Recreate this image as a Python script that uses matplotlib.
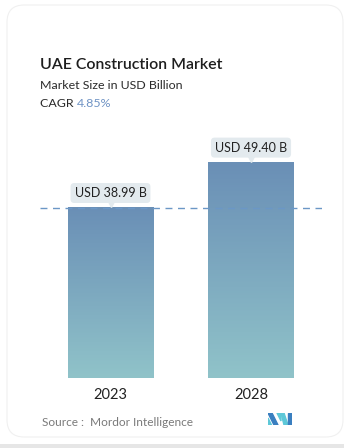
import matplotlib
matplotlib.use("Agg")
import matplotlib.pyplot as plt
import numpy as np
from matplotlib.patches import FancyBboxPatch, Rectangle, Polygon
from matplotlib.colors import LinearSegmentedColormap

# ---- data ----
categories = ["2023", "2028"]
values = [38.99, 49.40]
value_labels = ["USD 38.99 B", "USD 49.40 B"]
title = "UAE Construction Market"
subtitle = "Market Size in USD Billion"
cagr_label = "CAGR"
cagr_value = "4.85%"
source = "Source :  Mordor Intelligence"

W, H = 344, 448
plt.rcParams['font.family'] = ['Lato', 'DejaVu Sans']
fig = plt.figure(figsize=(W / 100, H / 100), dpi=100)
fig.patch.set_facecolor("white")

def fx(px):
    return px / W

def fy(py):
    return 1 - py / H

# card background
fig.patches.append(Rectangle((0, 0), 1, fy(444), transform=fig.transFigure,
                             facecolor="#e6e6e6", edgecolor="none", zorder=0))
card = FancyBboxPatch((fx(7), fy(437)), fx(343) - fx(7), fy(5) - fy(437),
                      boxstyle="round,pad=0,rounding_size=0.05",
                      transform=fig.transFigure, facecolor="white",
                      edgecolor="#f0f0f0", linewidth=0.8, zorder=1,
                      mutation_aspect=W / H)
fig.patches.append(card)

# titles
fig.text(fx(40), fy(69), title, fontsize=11.4, fontweight="semibold",
         color="#1e1e1e", va="baseline", ha="left", zorder=3)
fig.text(fx(40), fy(89), subtitle, fontsize=8.9, color="#2a2a2a",
         va="baseline", ha="left", zorder=3)
t = fig.text(fx(40), fy(107), cagr_label + " ", fontsize=8.9, color="#2a2a2a",
             va="baseline", ha="left", zorder=3)
fig.canvas.draw()
bb = t.get_window_extent()
fig.text(bb.x1 / W, fy(107), cagr_value, fontsize=8.9, color="#6f93c4",
         va="baseline", ha="left", zorder=3)

# axes
left_px, right_px = 40, 322
bottom_px, top_px = 378, 140
ax = fig.add_axes([fx(left_px), fy(bottom_px), fx(right_px) - fx(left_px),
                   fy(top_px) - fy(bottom_px)])
ax.set_zorder(5)
ax.patch.set_visible(False)
for s in ax.spines.values():
    s.set_visible(False)

x = np.arange(len(categories))
bar_w = 0.605
spacing_px = 140.5
xlim = (-(110.5 - left_px) / spacing_px, 1 + (right_px - 251) / spacing_px)
px_per_unit = 170 / values[0]
ylim = (0, (bottom_px - top_px) / px_per_unit)

cmap = LinearSegmentedColormap.from_list("g", ["#90c3c9", "#6a8fb6"])
grad = np.linspace(0, 1, 256).reshape(-1, 1)
bars = ax.bar(x, values, width=bar_w, color="none", edgecolor="none")
for b, v in zip(bars, values):
    x0 = b.get_x()
    ax.imshow(grad, extent=[x0, x0 + bar_w, 0, v], origin="lower",
              aspect="auto", cmap=cmap, zorder=2, interpolation="bilinear")
ax.set_xlim(*xlim)
ax.set_ylim(*ylim)

ax.axhline(values[0], color="#6b97c6", linewidth=1.0, linestyle=(0, (5, 4)),
           zorder=3)

# value labels
for xi, v, lab in zip(x, values, value_labels):
    ax.annotate(lab, xy=(xi, v), xytext=(0, 15), textcoords="offset pixels",
                ha="center", va="center", fontsize=9.0, color="#222222",
                bbox=dict(boxstyle="round,pad=0.32,rounding_size=0.3",
                          facecolor="#e3eaee", edgecolor="none"),
                zorder=5, annotation_clip=False)
    ax.plot([xi], [v + 4.0 / px_per_unit], marker="v", markersize=4,
            color="#e3eaee", zorder=4, clip_on=False)

ax.set_xticks(x)
ax.set_xticklabels(categories, fontsize=10.5, color="#222222")
ax.tick_params(axis="x", length=0, pad=7)
ax.set_yticks([])

# source
fig.text(fx(42), fy(426), source, fontsize=8.6, color="#7a7a7a",
         va="baseline", ha="left", zorder=3)

# logo
lax = fig.add_axes([fx(268), fy(425), fx(292) - fx(268), fy(413) - fy(425)])
lax.set_zorder(5)
lax.set_xlim(0, 24)
lax.set_ylim(0, 12)
lax.axis("off")
lax.add_patch(Polygon([(0, 12), (4, 12), (10, 0), (6, 0)], color="#3a7fc0"))
lax.add_patch(Polygon([(0, 0), (0, 7), (3.5, 0)], color="#5ec8d8"))
lax.add_patch(Polygon([(9, 12), (13, 12), (13, 4), (10, 10)], color="#5ec8d8"))
lax.add_patch(Polygon([(13, 12), (16, 12), (20, 0), (16, 0)], color="#5ec8d8"))
lax.add_patch(Polygon([(20, 0), (24, 0), (24, 12), (20, 12)], color="#3a7fc0"))

fig.savefig("out.png", dpi=100, facecolor="white")
